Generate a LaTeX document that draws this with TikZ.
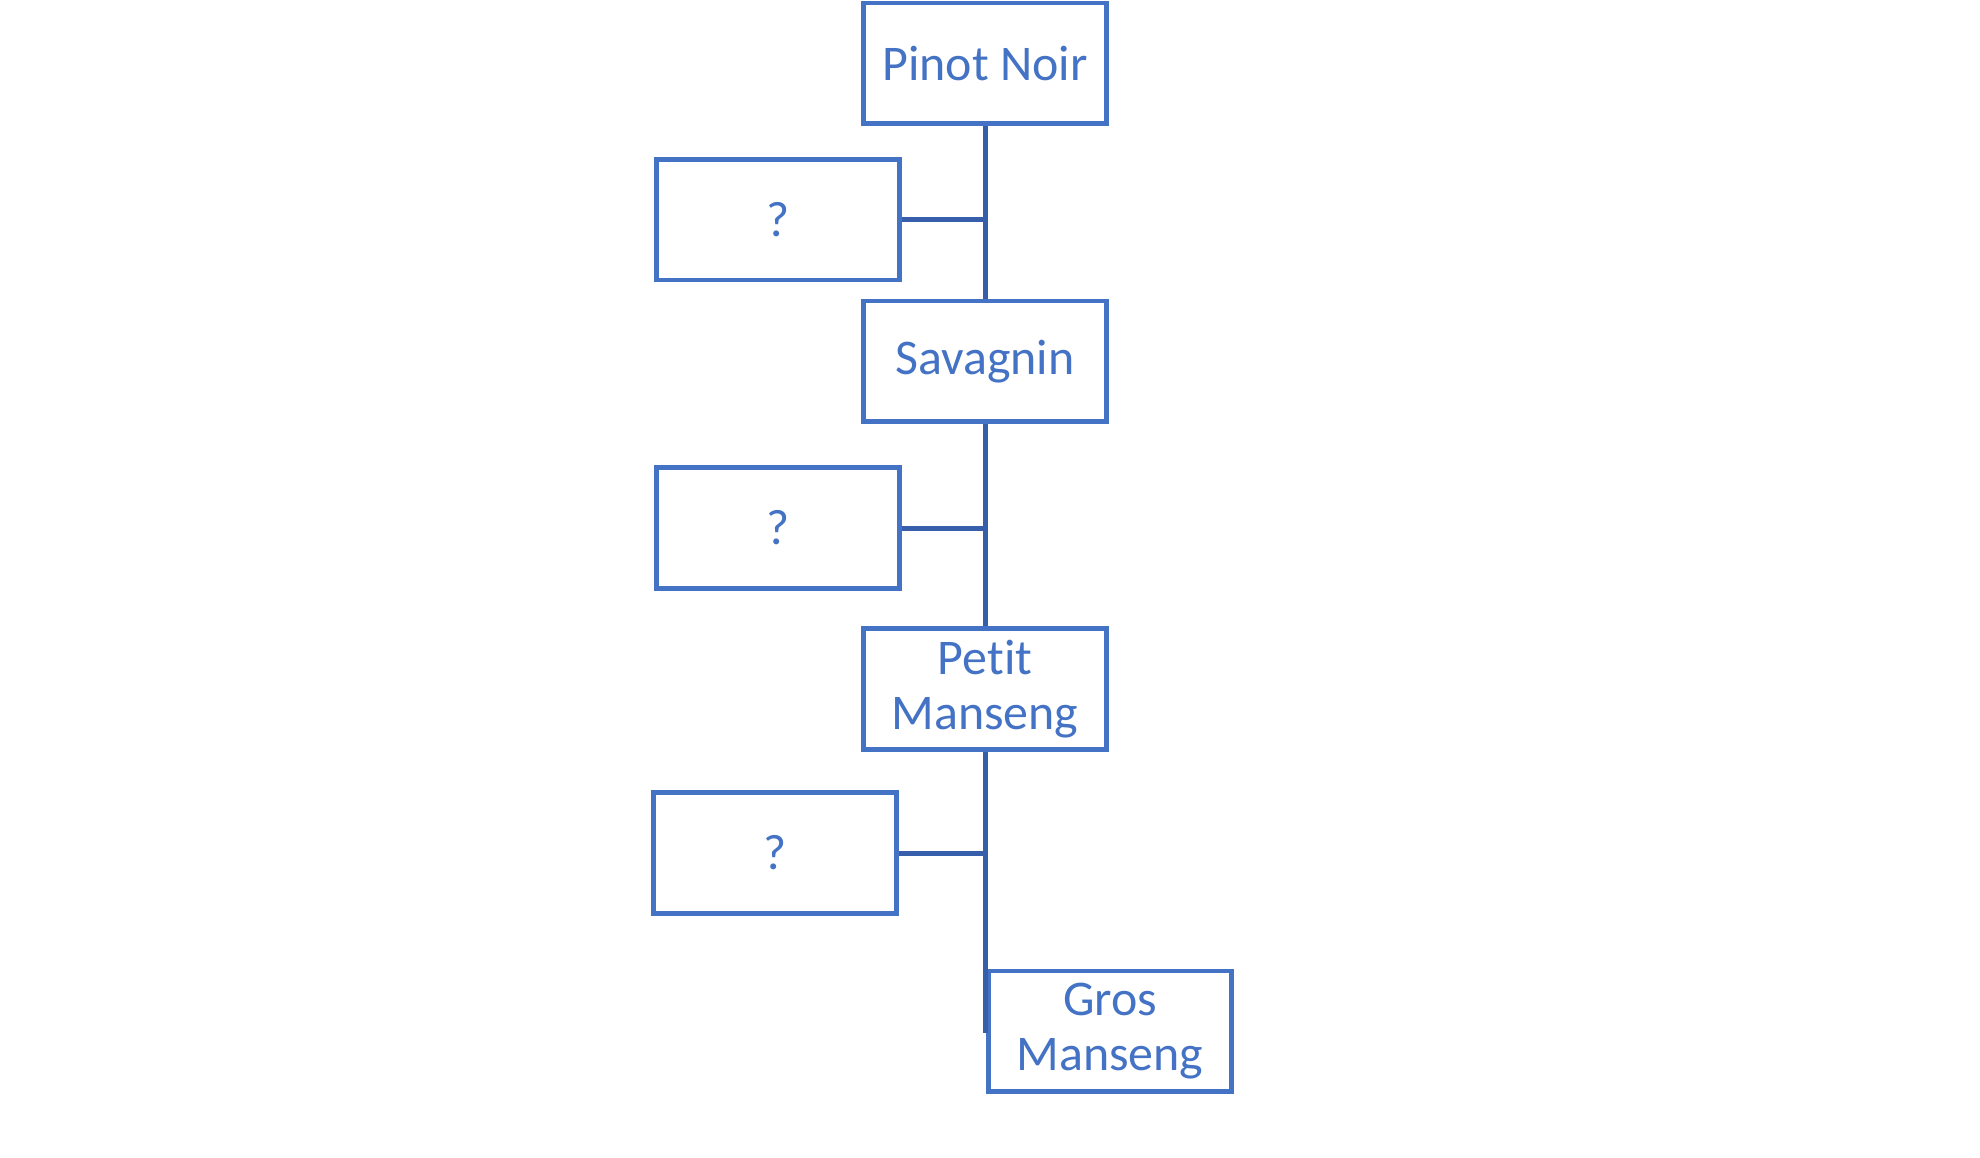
\documentclass[tikz,border=0pt]{standalone}
\usepackage{fontspec}
\setmainfont[Ligatures=NoCommon]{Carlito}
\definecolor{boxblue}{RGB}{68,114,196}
\definecolor{lineblue}{RGB}{55,94,170}
\begin{document}
\begin{tikzpicture}[x=0.01cm,y=-0.01cm,
  vine/.style={draw=boxblue, fill=white, line width=0.047cm, minimum width=2.43cm, minimum height=1.205cm,
    inner sep=0pt, text=boxblue, align=center, font=\fontsize{14.2}{15.8}\selectfont},
  link/.style={draw=lineblue, line width=0.05cm}]
\useasboundingbox (0,0) rectangle (1980,1157);
\node[vine] (pinot) at (985,63.2) {Pinot Noir};
\node[vine] (q1) at (778,219.8) {?};
\node[vine] (sav) at (985,361.2) {Savagnin};
\node[vine] (q2) at (778,528) {?};
\node[vine] (petit) at (985,688.9) {Petit\\Manseng};
\node[vine] (q3) at (775,853) {?};
\node[vine] (gros) at (1110,1031.2) {Gros\\Manseng};
\coordinate (tail) at (985,1033);
\draw[link] (pinot.south) -- (sav.north);
\draw[link] (sav.south) -- (petit.north);
\draw[link] (petit.south) -- (tail);
\draw[link] (q1.east) -- (q1.east -| pinot.south);
\draw[link] (q2.east) -- (q2.east -| sav.south);
\draw[link] (q3.east) -- (q3.east -| petit.south);
\end{tikzpicture}
\end{document}
